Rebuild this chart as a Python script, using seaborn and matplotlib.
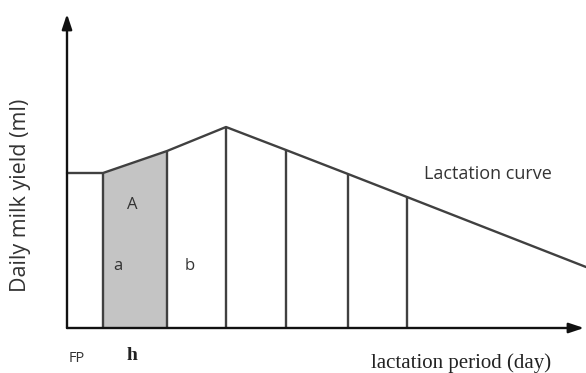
import numpy as np
import pandas as pd
import matplotlib
matplotlib.use("Agg")
import matplotlib.pyplot as plt
import seaborn as sns

# lactation curve vertices (x = day offset from origin, y = daily yield, arbitrary units)
curve_x = [0, 36, 100, 159, 219, 281, 340, 519]
curve_y = [155, 155, 177, 201, 178, 154, 131, 61]

# vertical dividers under the curve
divider_x = [36, 100, 159, 219, 281, 340]
divider_y = [155, 177, 201, 178, 154, 131]

# shaded segment (area A)
shade_x = [36, 100]
shade_y = [155, 177]

LINE = "#404040"
TEXT = "#333333"

sns.set_style("white")
fig = plt.figure(figsize=(5.86, 3.73), dpi=100)
ax = fig.add_axes([0, 0, 1, 1])
ax.set_xlim(-67, 519)
ax.set_ylim(-45, 328)
ax.axis("off")

ax.fill_between(shade_x, 0, shade_y, color="#c4c4c4", lw=0, zorder=1)

df = pd.DataFrame({"day": curve_x, "yield": curve_y})
sns.lineplot(data=df, x="day", y="yield", color=LINE, lw=1.7, ax=ax,
             sort=False, zorder=3)
ax.vlines(divider_x, 0, divider_y, color=LINE, lw=1.7, zorder=3)

# axes with arrow heads
ax.annotate("", xy=(0, 314), xytext=(0, 0),
            arrowprops=dict(arrowstyle="-|>,head_length=0.9,head_width=0.3",
                            color="#111111", lw=1.7, shrinkA=0, shrinkB=0), zorder=4)
ax.annotate("", xy=(517, 0), xytext=(0, 0),
            arrowprops=dict(arrowstyle="-|>,head_length=0.9,head_width=0.3",
                            color="#111111", lw=1.7, shrinkA=0, shrinkB=0), zorder=4)

sans = "Open Sans"
serif = "Liberation Serif"
ax.text(-46, 133, "Daily milk yield (ml)", rotation=90, ha="center", va="center",
        fontsize=15.5, family=sans, color=TEXT, weight="medium")
ax.text(421, 154, "Lactation curve", ha="center", va="center",
        fontsize=13, family=sans, color=TEXT)
ax.text(394, -35, "lactation period (day)", ha="center", va="center",
        fontsize=15, family=serif, color="#222222")
ax.text(65, 123, "A", ha="center", va="center", fontsize=12, family=sans, color=TEXT)
ax.text(51, 62, "a", ha="center", va="center", fontsize=12, family=sans, color=TEXT)
ax.text(123, 62, "b", ha="center", va="center", fontsize=12, family=sans, color=TEXT)
ax.text(10, -30, "FP", ha="center", va="center", fontsize=10.5, family=sans, color=TEXT)
ax.text(65, -27, "h", ha="center", va="center", fontsize=14, family=serif,
        weight="bold", color="#222222")

fig.savefig("out.png", dpi=100, facecolor="white")
